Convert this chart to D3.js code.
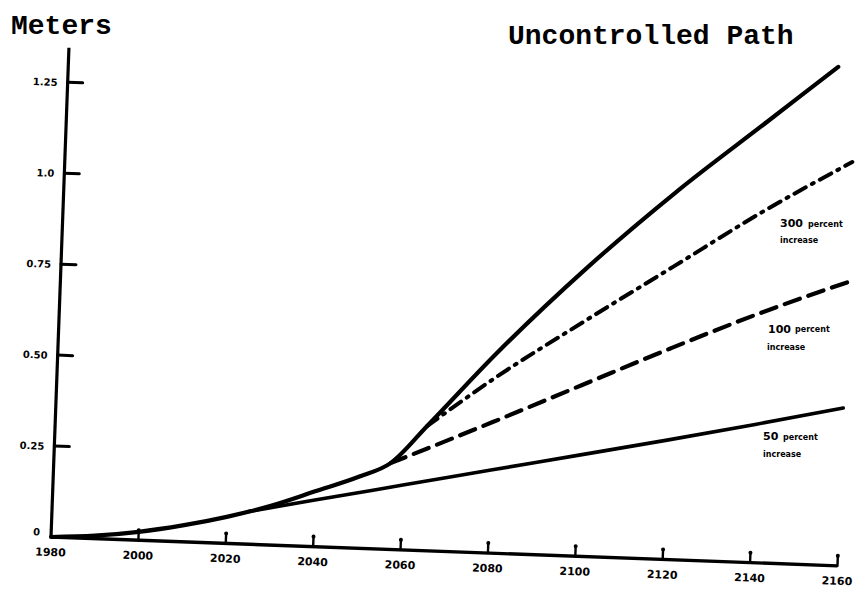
<!DOCTYPE html>
<html>
<head>
<meta charset="utf-8">
<script src="https://cdn.jsdelivr.net/npm/d3@7/dist/d3.min.js"></script>
<style>
  html, body { margin: 0; padding: 0; background: #fff; }
  svg { display: block; }
</style>
</head>
<body>
<svg id="chart" width="855" height="592"></svg>
<script>
// ---------------- DATA ----------------
const xTickYears  = [1980, 2000, 2020, 2040, 2060, 2080, 2100, 2120, 2140, 2160];
const xTickLabels = ["1980", "2000", "2020", "2040", "2060", "2080", "2100", "2120", "2140", "2160"];
const yTickValues = [0, 0.25, 0.5, 0.75, 1.0, 1.25];
const yTickLabels = ["0", "0.25", "0.50", "0.75", "1.0", "1.25"];

// Uncontrolled path (solid)
const uncontrolledYears  = [1980, 1990, 2000, 2010, 2020, 2030, 2040, 2050, 2057, 2065, 2080, 2100, 2120, 2140, 2156];
const uncontrolledValues = [0, 0.008, 0.023, 0.045, 0.073, 0.108, 0.152, 0.197, 0.237, 0.342, 0.545, 0.79, 1.01, 1.21, 1.37];

// 300 (dash-dot)
const path300Years  = [2065, 2080, 2100, 2120, 2140, 2160];
const path300Values = [0.342, 0.48, 0.645, 0.805, 0.965, 1.11];

// 100 (dashed)
const path100Years  = [2057, 2080, 2100, 2120, 2140, 2160];
const path100Values = [0.237, 0.36, 0.47, 0.58, 0.685, 0.78];

// 50 (solid, thinner)
const path50Years  = [2025, 2040, 2060, 2080, 2100, 2120, 2140, 2160];
const path50Values = [0.09, 0.128, 0.178, 0.228, 0.278, 0.328, 0.38, 0.434];

const seriesLabels = [
  { num: "300", word: "percent", word2: "increase" },
  { num: "100", word: "percent", word2: "increase" },
  { num: "50",  word: "percent", word2: "increase" }
];

// ---------------- DRAW ----------------
const svg = d3.select("#chart");
const ink = "#000";

svg.append("text").attr("x", 11).attr("y", 34)
  .attr("font-family", "Liberation Mono, DejaVu Sans Mono, monospace")
  .attr("font-weight", "bold").attr("font-size", 28).attr("fill", ink)
  .text("Meters");
svg.append("text").attr("x", 508).attr("y", 44)
  .attr("font-family", "Liberation Mono, DejaVu Sans Mono, monospace")
  .attr("font-weight", "bold").attr("font-size", 28).attr("fill", ink)
  .text("Uncontrolled Path");

// plot group: scanned page is slightly rotated
const g = svg.append("g").attr("transform", "translate(51,537) rotate(2.1)");

const x = d3.scaleLinear().domain([1980, 2160]).range([0, 787]);
const y = d3.scaleLinear().domain([0, 1.25]).range([0, -455]);

// axes
g.append("line").attr("x1", x(1980)).attr("y1", y(0)).attr("x2", x(1980)).attr("y2", y(1.345))
  .attr("stroke", ink).attr("stroke-width", 3.2);
g.append("line").attr("x1", x(1980)).attr("y1", y(0)).attr("x2", x(2160)).attr("y2", y(0))
  .attr("stroke", ink).attr("stroke-width", 3.4);

// y ticks
g.selectAll(".ytick").data(yTickValues.filter(v => v > 0)).enter().append("line")
  .attr("x1", 0).attr("x2", 15).attr("y1", d => y(d)).attr("y2", d => y(d))
  .attr("stroke", ink).attr("stroke-width", 3).attr("stroke-linecap", "round");
g.selectAll(".ylab").data(yTickValues).enter().append("text")
  .attr("x", d => d === 0 ? -11 : -10)
  .attr("y", d => y(d) + (d === 0 ? -1 : 4))
  .attr("text-anchor", "end")
  .attr("font-family", "DejaVu Sans, sans-serif").attr("font-weight", "bold")
  .attr("font-size", 10).attr("fill", ink)
  .text((d, i) => yTickLabels[i]);

// x ticks
g.selectAll(".xtick").data(xTickYears.slice(1)).enter().append("line")
  .attr("x1", d => x(d)).attr("x2", d => x(d)).attr("y1", 0).attr("y2", -10)
  .attr("stroke", ink).attr("stroke-width", 2.4).attr("stroke-linecap", "round");
g.selectAll(".xtickdot").data(xTickYears.slice(1)).enter().append("circle")
  .attr("cx", d => x(d)).attr("cy", -10).attr("r", 2).attr("fill", ink);
g.selectAll(".xlab").data(xTickYears).enter().append("text")
  .attr("x", d => x(d)).attr("y", 19)
  .attr("text-anchor", "middle")
  .attr("font-family", "DejaVu Sans, sans-serif").attr("font-weight", "bold")
  .attr("font-size", 11).attr("fill", ink)
  .text((d, i) => xTickLabels[i]);

// lines
const line = d3.line().x(d => x(d[0])).y(d => y(d[1])).curve(d3.curveMonotoneX);
const zip = (a, b) => a.map((v, i) => [v, b[i]]);

g.append("path").attr("d", line(zip(path50Years, path50Values)))
  .attr("fill", "none").attr("stroke", ink).attr("stroke-width", 3.6).attr("stroke-linecap", "round");
g.append("path").attr("d", line(zip(path100Years, path100Values)))
  .attr("fill", "none").attr("stroke", ink).attr("stroke-width", 4.2)
  .attr("stroke-dasharray", "16 9").attr("stroke-linecap", "round");
g.append("path").attr("d", line(zip(path300Years, path300Values)))
  .attr("fill", "none").attr("stroke", ink).attr("stroke-width", 4)
  .attr("stroke-dasharray", "13 7 2 7").attr("stroke-linecap", "round");
g.append("path").attr("d", line(zip(uncontrolledYears, uncontrolledValues)))
  .attr("fill", "none").attr("stroke", ink).attr("stroke-width", 4.2).attr("stroke-linecap", "round");

// series labels (annotations)
const labelPos = [[780, 227, 808, 227, 780, 243], [768, 333, 795, 332, 767, 350], [763, 440, 783, 440, 763, 457]];
seriesLabels.forEach((s, i) => {
  const p = labelPos[i];
  svg.append("text").attr("x", p[0]).attr("y", p[1])
    .attr("font-family", "DejaVu Sans, sans-serif").attr("font-weight", "bold")
    .attr("font-size", 11).attr("fill", ink).text(s.num);
  svg.append("text").attr("x", p[2]).attr("y", p[3])
    .attr("font-family", "DejaVu Sans, sans-serif").attr("font-weight", "bold")
    .attr("font-size", 8).attr("fill", ink).text(s.word);
  svg.append("text").attr("x", p[4]).attr("y", p[5])
    .attr("font-family", "DejaVu Sans, sans-serif").attr("font-weight", "bold")
    .attr("font-size", 8).attr("fill", ink).text(s.word2);
});
</script>
</body>
</html>
